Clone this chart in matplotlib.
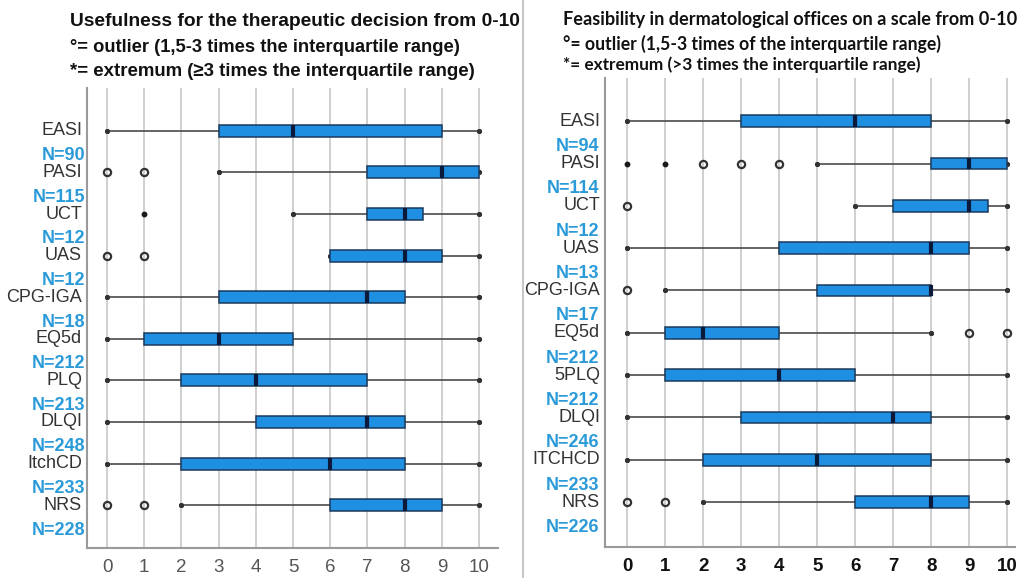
import matplotlib
matplotlib.use("Agg")
import matplotlib.pyplot as plt
from matplotlib.lines import Line2D
from matplotlib import transforms

# ---------------- data ----------------
cats_l = ['EASI', 'PASI', 'UCT', 'UAS', 'CPG-IGA', 'EQ5d', 'PLQ', 'DLQI', 'ItchCD', 'NRS']
n_l = [90, 115, 12, 12, 18, 212, 213, 248, 233, 228]
q1_l = [3, 7, 7, 6, 3, 1, 2, 4, 2, 6]
med_l = [5, 9, 8, 8, 7, 3, 4, 7, 6, 8]
q3_l = [9, 10, 8.5, 9, 8, 5, 7, 8, 8, 9]
wlo_l = [0, 3, 5, 6, 0, 0, 0, 0, 0, 2]
whi_l = [10, 10, 10, 10, 10, 10, 10, 10, 10, 10]
out_l = [[], [0, 1], [], [0, 1], [], [], [], [], [], [0, 1]]
ext_l = [[], [], [1], [], [], [], [], [], [], []]

cats_r = ['EASI', 'PASI', 'UCT', 'UAS', 'CPG-IGA', 'EQ5d', '5PLQ', 'DLQI', 'ITCHCD', 'NRS']
n_r = [94, 114, 12, 13, 17, 212, 212, 246, 233, 226]
q1_r = [3, 8, 7, 4, 5, 1, 1, 3, 2, 6]
med_r = [6, 9, 9, 8, 8, 2, 4, 7, 5, 8]
q3_r = [8, 10, 9.5, 9, 8, 4, 6, 8, 8, 9]
wlo_r = [0, 5, 6, 0, 1, 0, 0, 0, 0, 2]
whi_r = [10, 10, 10, 10, 10, 8, 10, 10, 10, 10]
out_r = [[], [2, 3, 4], [0], [], [0], [9, 10], [], [], [], [0, 1]]
ext_r = [[], [0, 1], [], [], [], [], [], [], [], []]

xticks = list(range(0, 11))

title_l = ["Usefulness for the therapeutic decision from 0-10",
           "°= outlier (1,5-3 times the interquartile range)",
           "*= extremum (≥3 times the interquartile range)"]
title_r = ["Feasibility in dermatological offices on a scale from 0-10",
           "°= outlier (1,5-3 times of the interquartile range)",
           "*= extremum (>3 times the interquartile range)"]

# ---------------- style ----------------
W, H = 1020, 578
BOX = '#1f8fe2'
BOXEDGE = '#1b3a5c'
MED = '#0b1a3a'
NCOL = '#2a9ad8'
LAB = '#333333'
GRID = '#cccccc'

fig = plt.figure(figsize=(W / 100, H / 100), dpi=100)
fig.patch.set_facecolor('white')


def px_axes(x0, y0, x1, y1):
    return fig.add_axes([x0 / W, 1 - y1 / H, (x1 - x0) / W, (y1 - y0) / H])


def panel(ax, cats, n, q1, med, q3, wlo, whi, outs, exts, xlim, ylim,
          boxw, tick_bold, tick_color, noff, labx, nx):
    stats = []
    for i in range(len(cats)):
        stats.append(dict(med=med[i], q1=q1[i], q3=q3[i], whislo=wlo[i],
                          whishi=whi[i], fliers=outs[i], label=cats[i]))
    pos = list(range(len(cats)))
    ax.bxp(stats, positions=pos, vert=False, widths=boxw, patch_artist=True,
           showfliers=True, capwidths=0,
           boxprops=dict(facecolor=BOX, edgecolor=BOXEDGE, linewidth=1.1, zorder=3),
           medianprops=dict(color=MED, linewidth=3, solid_capstyle='butt', zorder=4),
           whiskerprops=dict(color='#4a4a4a', linewidth=1.2, zorder=2),
           capprops=dict(color='#333333', marker='o', markersize=2.6, linestyle='none', zorder=2),
           flierprops=dict(marker='o', markerfacecolor='none', markeredgecolor='#333333',
                           markersize=5.2, markeredgewidth=1.6, zorder=4))
    for i, ex in enumerate(exts):
        if ex:
            ax.plot(ex, [i] * len(ex), linestyle='none', marker='o', markersize=3.2,
                    color='#1a1a1a', zorder=4)
    ax.set_xlim(*xlim)
    ax.set_ylim(*ylim)
    ax.set_xticks(xticks)
    ax.set_xticklabels([str(t) for t in xticks], fontsize=13.5,
                       fontweight='bold' if tick_bold else 'normal', color=tick_color,
                       family='Liberation Sans')
    ax.tick_params(axis='x', length=0, pad=8)
    ax.set_yticks([])
    for t in xticks:
        ax.axvline(t, color=GRID, linewidth=1.3, zorder=0)
    for s in ['top', 'right']:
        ax.spines[s].set_visible(False)
    for s in ['left', 'bottom']:
        ax.spines[s].set_color('#9a9a9a')
        ax.spines[s].set_linewidth(1.5)
    tr = transforms.blended_transform_factory(ax.transAxes, ax.transData)
    for i, c in enumerate(cats):
        ax.text(labx, i, c, transform=tr, ha='right', va='center', fontsize=13,
                color=LAB, family='Liberation Sans', clip_on=False)
        ax.text(nx, i + noff, f"N={n[i]}", transform=tr, ha='right', va='center',
                fontsize=13, fontweight='bold', color=NCOL, family='Liberation Sans',
                clip_on=False)


axL = px_axes(87, 88, 498, 548)
panel(axL, cats_l, n_l, q1_l, med_l, q3_l, wlo_l, whi_l, out_l, ext_l,
      xlim=(-0.54, 10.51), ylim=(10.03, -1.03), boxw=0.29, tick_bold=False,
      tick_color='#555555', noff=0.6, labx=-0.012, nx=-0.005)

axR = px_axes(605, 78, 1015, 547)
panel(axR, cats_r, n_r, q1_r, med_r, q3_r, wlo_r, whi_r, out_r, ext_r,
      xlim=(-0.58, 10.2), ylim=(10.06, -1.02), boxw=0.27, tick_bold=True,
      tick_color='#111111', noff=0.6, labx=-0.012, nx=-0.015)

# titles
ys_l = [22, 47, 72]
sizes_l = [13.8, 13.2, 13.4]
for t, y, s in zip(title_l, ys_l, sizes_l):
    fig.text(70 / W, 1 - y / H, t, ha='left', va='center',
             fontsize=s, fontweight='bold', color='#111111',
             family='Liberation Sans')
ys_r = [20, 44, 65]
sizes_r = [13.1, 12.7, 12.4]
for t, y, s in zip(title_r, ys_r, sizes_r):
    fig.text(563 / W, 1 - y / H, t, ha='left', va='center',
             fontsize=s, fontweight='bold', color='#111111',
             family='Lato')

# panel separator
fig.add_artist(Line2D([523 / W, 523 / W], [0, 1], color='#bbbbbb', linewidth=1.2))

fig.savefig('out.png', dpi=100, facecolor='white')
